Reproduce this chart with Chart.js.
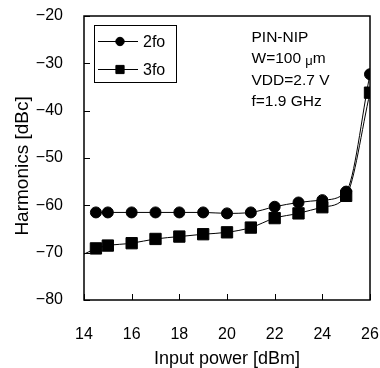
<!DOCTYPE html>
<html lang="en">
  <head>
    <meta charset="utf-8" />
    <title>Harmonics vs input power</title>
    <style>
      * { margin: 0; padding: 0; }
      body { background: #fff; }
      .chartBox { width: 380px; height: 368px; }
    </style>
  </head>
  <body>
    <div class="chartBox">
      <canvas id="myChart" width="380" height="368"></canvas>
    </div>

    <script src="https://cdn.jsdelivr.net/npm/chart.js"></script>

    <script>
      // input power [dBm]
      const inputPower = [14.5, 15, 16, 17, 18, 19, 20, 21, 22, 23, 24, 25, 26];
      // 2nd harmonic [dBc]
      const harm2 = [-61.5, -61.5, -61.5, -61.5, -61.5, -61.5, -61.7, -61.5, -60.3, -59.4, -58.9, -57.1, -32.3];
      // 3rd harmonic [dBc]
      const harm3 = [-69.1, -68.5, -68.0, -67.1, -66.6, -66.1, -65.7, -64.7, -62.7, -61.7, -60.4, -58.0, -36.2];
      // where the 3fo curve leaves the left edge of the plot
      const harm3Lead = [{ x: 14, y: -70.3 }, { x: 14.5, y: -69.1 }];

      const xTicks = [14, 16, 18, 20, 22, 24, 26];
      const yTicks = [-80, -70, -60, -50, -40, -30, -20];
      const notes = ["PIN-NIP", "W=100 \u03bcm", "VDD=2.7 V", "f=1.9 GHz"];

      const FONT = "Liberation Sans, Arial, sans-serif";

      const toPoints = (xs, ys) => xs.map((x, i) => ({ x: x, y: ys[i] }));

      const data = {
        datasets: [
          {
            label: "2fo",
            data: toPoints(inputPower, harm2),
            borderColor: "#000",
            backgroundColor: "#000",
            borderWidth: 1,
            pointStyle: "circle",
            pointRadius: 5.5,
            showLine: true,
            cubicInterpolationMode: "monotone",
          },
          {
            label: "3fo",
            data: toPoints(inputPower, harm3),
            borderColor: "#000",
            backgroundColor: "#000",
            borderWidth: 1,
            pointStyle: "rect",
            pointRadius: 8,
            showLine: true,
            cubicInterpolationMode: "monotone",
          },
          {
            label: "3fo lead",
            data: harm3Lead,
            borderColor: "#000",
            borderWidth: 1,
            pointRadius: 0,
            showLine: true,
          },
        ],
      };

      // frame, inward ticks, legend box and notes
      const decorations = {
        id: "decorations",
        afterDatasetsDraw(chart) {
          const {
            ctx,
            chartArea: { top, bottom, left, right },
            scales: { x, y },
          } = chart;
          ctx.save();
          ctx.strokeStyle = "#000";
          ctx.lineWidth = 1.5;
          ctx.strokeRect(left, top, right - left, bottom - top);

          ctx.lineWidth = 1;
          ctx.beginPath();
          xTicks.forEach((v) => {
            const px = Math.round(x.getPixelForValue(v)) + 0.5;
            ctx.moveTo(px, bottom);
            ctx.lineTo(px, bottom - 6);
          });
          yTicks.forEach((v) => {
            const py = Math.round(y.getPixelForValue(v)) + 0.5;
            ctx.moveTo(left, py);
            ctx.lineTo(left + 6, py);
          });
          ctx.stroke();

          // legend
          ctx.fillStyle = "#fff";
          ctx.fillRect(94.5, 25.5, 82, 57);
          ctx.strokeRect(94.5, 25.5, 82, 57);
          ctx.font = "16px " + FONT;
          ctx.textBaseline = "middle";
          ctx.textAlign = "left";
          const rows = [
            { y: 41.5, style: "circle", r: 4.2, label: "2fo" },
            { y: 69.5, style: "rect", r: 5.8, label: "3fo" },
          ];
          rows.forEach((row) => {
            ctx.strokeStyle = "#000";
            ctx.beginPath();
            ctx.moveTo(98, row.y);
            ctx.lineTo(138, row.y);
            ctx.stroke();
            ctx.fillStyle = "#000";
            Chart.helpers.drawPoint(ctx, { pointStyle: row.style, radius: row.r, borderWidth: 1 }, 120, row.y);
            ctx.fillStyle = "#000";
            ctx.fillText(row.label, 143, row.y + 1);
          });

          // notes (the mu is set smaller and lower, as in a symbol font)
          notes.forEach((t, i) => {
            const ty = 37.5 + i * 21.5;
            let tx = 251.5;
            const parts = t.split("\u03bc");
            parts.forEach((p, k) => {
              ctx.font = "15.5px " + FONT;
              ctx.fillText(p, tx, ty);
              tx += ctx.measureText(p).width;
              if (k < parts.length - 1) {
                ctx.font = "13px " + FONT;
                ctx.fillText("\u03bc", tx, ty + 2);
                tx += ctx.measureText("\u03bc").width;
              }
            });
          });
          ctx.restore();
        },
      };

      const noOverflow = (s) => {
        s.paddingLeft = 0;
        s.paddingRight = 0;
        s.paddingTop = 0;
        s.paddingBottom = 0;
      };

      const config = {
        type: "scatter",
        data: data,
        options: {
          responsive: false,
          animation: false,
          layout: { padding: { top: 16, right: 10, left: 0, bottom: 0 } },
          plugins: {
            legend: { display: false },
            tooltip: { enabled: false },
          },
          scales: {
            x: {
              type: "linear",
              min: 14,
              max: 26,
              afterBuildTicks: (s) => { s.ticks = xTicks.map((v) => ({ value: v })); },
              afterFit: (s) => { s.height = 68; noOverflow(s); },
              grid: { display: false, drawTicks: false },
              border: { display: false },
              ticks: {
                color: "#000",
                font: { family: FONT, size: 16 },
                padding: 25,
              },
              title: {
                display: true,
                text: "Input power [dBm]",
                color: "#000",
                font: { family: FONT, size: 18, lineHeight: 1.0 },
                padding: { top: 0, bottom: 0 },
              },
            },
            y: {
              min: -80,
              max: -20,
              afterBuildTicks: (s) => { s.ticks = yTicks.map((v) => ({ value: v })); },
              afterFit: (s) => { s.width = 84; noOverflow(s); },
              grid: { display: false, drawTicks: false },
              border: { display: false },
              ticks: {
                color: "#000",
                font: { family: FONT, size: 16 },
                padding: 21,
                callback: (v) => String(v).replace("-", "\u2212"),
              },
              title: {
                display: true,
                text: "Harmonics [dBc]   ",
                color: "#000",
                font: { family: FONT, size: 19 },
                padding: { top: 11, bottom: 0 },
              },
            },
          },
        },
        plugins: [decorations],
      };

      const myChart = new Chart(document.getElementById("myChart"), config);
    </script>
  </body>
</html>
